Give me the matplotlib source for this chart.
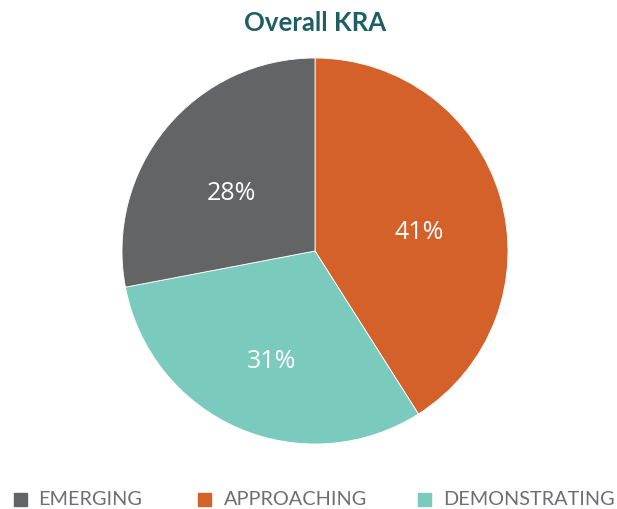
import matplotlib
matplotlib.use("Agg")
import matplotlib.pyplot as plt
from matplotlib.patches import Rectangle

categories = ["EMERGING", "APPROACHING", "DEMONSTRATING"]
values = [28, 41, 31]
colors = ["#636466", "#D4612A", "#7ACBBE"]
title = "Overall KRA"

W, H = 617, 510
fig = plt.figure(figsize=(W / 100, H / 100), dpi=100)

cx, cy, r = 315, 252, 193
ax = fig.add_axes([(cx - r) / W, (H - cy - r) / H, 2 * r / W, 2 * r / H])

# Draw clockwise from top: APPROACHING, DEMONSTRATING, EMERGING
order = [1, 2, 0]
vals = [values[i] for i in order]
cols = [colors[i] for i in order]
wedges, texts, autotexts = ax.pie(
    vals, colors=cols, startangle=90, counterclock=False,
    autopct=lambda p: f"{p:.0f}%", pctdistance=0.56,
    wedgeprops=dict(linewidth=0.6, edgecolor="white"),
    textprops=dict(color="white", fontsize=18, family="Open Sans", fontweight="normal"),
)
for t in autotexts:
    t.set_color("white")
    x, y = t.get_position()
    t.set_position((x, y - 0.055))
ax.set_xlim(-1, 1)
ax.set_ylim(-1, 1)
ax.set_aspect("equal")
ax.axis("off")

fig.text(cx / W, 1 - 23 / H, title, ha="center", va="center",
         fontsize=18.5, fontweight="bold", family="Lato", color="#1E5E65")

# legend
sq_x = [14, 198, 418]
txt_x = [38, 224, 443]
ly = 500
for i, cat in enumerate(categories):
    fig.patches.append(Rectangle((sq_x[i] / W, (H - ly - 6.5) / H), 13 / W, 13 / H,
                                 transform=fig.transFigure, color=colors[i], figure=fig))
    fig.text(txt_x[i] / W, 1 - ly / H, cat, ha="left", va="center",
             fontsize=14.3, family="Lato", color="#6D6E71")

fig.savefig("out.png", dpi=100)
